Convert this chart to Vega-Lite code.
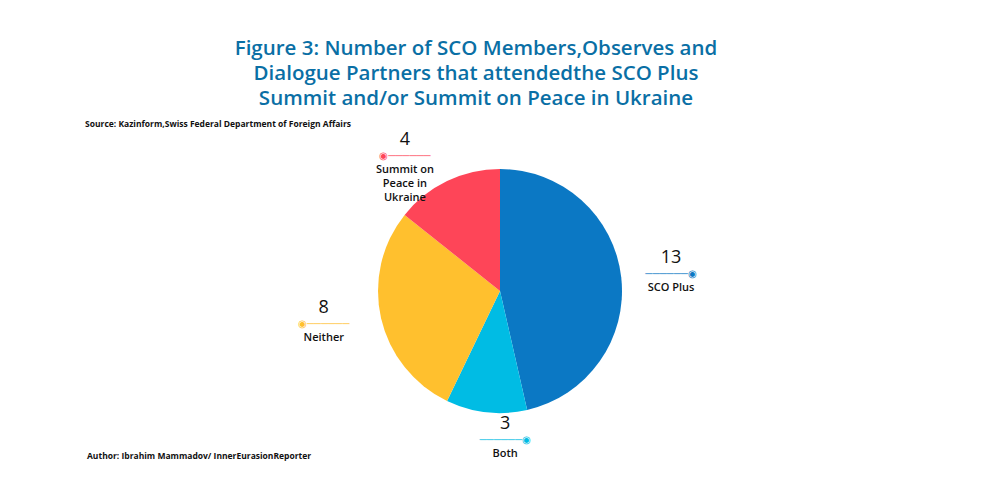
{
  "$schema": "https://vega.github.io/schema/vega-lite/v6.json",
  "background": "white",
  "padding": {"left": 85, "top": 38, "right": 80, "bottom": 0},
  "config": {
    "font": "Open Sans",
    "view": {"stroke": null}
  },
  "spacing": -12,
  "title": {
    "text": ["Figure 3: Number of SCO Members,Observes and", "Dialogue Partners that attendedthe SCO Plus", "Summit and/or Summit on Peace in Ukraine"],
    "anchor": "middle",
    "dx": -24,
    "font": "Open Sans",
    "fontSize": 20.5,
    "fontWeight": 600,
    "color": "#0a6fa5",
    "lineHeight": 25,
    "offset": 11
  },
  "datasets": {
    "groups": [
      {"rank": 1, "group": "SCO Plus", "label": "SCO Plus", "count": 13},
      {"rank": 2, "group": "Both", "label": "Both", "count": 3},
      {"rank": 3, "group": "Neither", "label": "Neither", "count": 8},
      {"rank": 4, "group": "Summit on Peace in Ukraine", "label": "Summit on\nPeace in\nUkraine", "count": 4}
    ]
  },
  "vconcat": [
    {
      "width": 830,
      "height": 320,
      "title": {
        "text": "Source: Kazinform,Swiss Federal Department of Foreign Affairs",
        "anchor": "start",
        "fontSize": 8.5,
        "fontWeight": "bold",
        "color": "#111111",
        "offset": 2
      },
      "data": {"name": "groups"},
      "encoding": {
        "theta": {"field": "count", "type": "quantitative", "stack": true},
        "order": {"field": "rank", "type": "quantitative", "sort": "ascending"}
      },
      "layer": [
        {
          "mark": {"type": "arc", "outerRadius": 122},
          "encoding": {
            "color": {
              "field": "group",
              "type": "nominal",
              "scale": {
                "domain": ["SCO Plus", "Both", "Neither", "Summit on Peace in Ukraine"],
                "range": ["#0b78c4", "#00bce4", "#ffc02e", "#fe4558"]
              },
              "legend": null
            }
          }
        },
        {
          "mark": {"type": "text", "radius": 150, "dy": -16, "dx": {"expr": "datum.rank <= 2 ? 22 : -30"}, "fontSize": 18, "font": "Open Sans", "fontWeight": 500, "color": "#111111"},
          "encoding": {"text": {"field": "count", "type": "quantitative"}}
        },
        {
          "mark": {"type": "text", "radius": 150, "dy": 8, "dx": {"expr": "datum.rank <= 2 ? 22 : -30"}, "baseline": "top", "fontSize": 11, "font": "Open Sans", "fontWeight": 600, "color": "#111111", "lineBreak": "\n", "lineHeight": 14},
          "encoding": {"text": {"field": "label", "type": "nominal"}}
        },
        {
          "mark": {"type": "text", "radius": 150, "dy": 0, "dx": {"expr": "datum.rank <= 2 ? 22 : -30"}, "fontSize": 10},
          "encoding": {
            "text": {
              "condition": {"test": "datum.rank <= 2", "value": "──────◉"},
              "value": "◉──────"
            },
            "color": {"field": "group", "type": "nominal", "legend": null}
          }
        }
      ]
    },
    {
      "width": 830,
      "height": 1,
      "title": {
        "text": "Author: Ibrahim Mammadov/ InnerEurasionReporter",
        "anchor": "start",
        "fontSize": 8.5,
        "fontWeight": "bold",
        "color": "#111111",
        "dx": 2,
        "offset": 0
      },
      "data": {"values": []},
      "mark": "point"
    }
  ]
}
